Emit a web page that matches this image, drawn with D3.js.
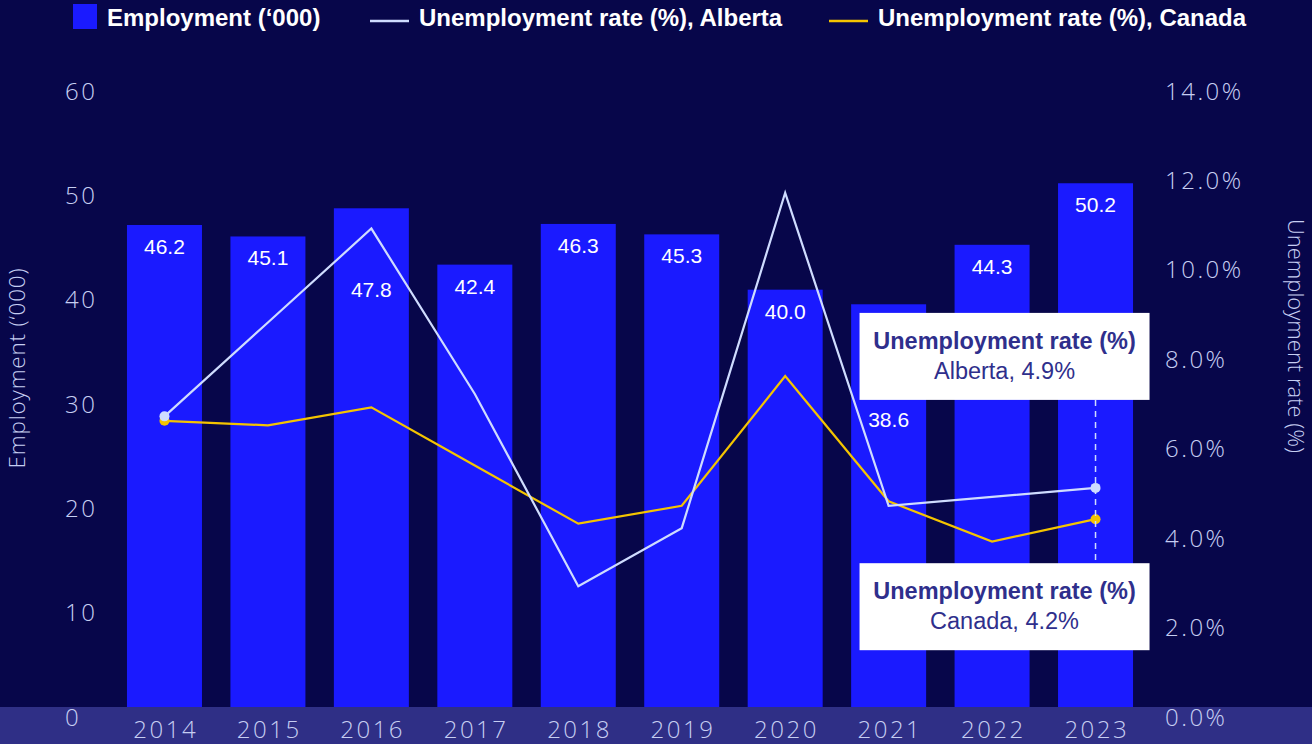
<!DOCTYPE html>
<html>
<head>
<meta charset="utf-8">
<script src="https://cdn.jsdelivr.net/npm/d3@7"></script>
<style>
  html, body { margin: 0; padding: 0; background: #07064a; }
  svg { display: block; }
</style>
</head>
<body>
<svg id="chart" width="1312" height="744"></svg>
<script>
// ---- data ----
const years = ["2014", "2015", "2016", "2017", "2018", "2019", "2020", "2021", "2022", "2023"];
const employment = [46.2, 45.1, 47.8, 42.4, 46.3, 45.3, 40.0, 38.6, 44.3, 50.2];
const rateAlberta = [6.5, 8.6, 10.7, 7.0, 2.7, 4.0, 11.5, 4.5, 4.7, 4.9];
const rateCanada = [6.4, 6.3, 6.7, 5.4, 4.1, 4.5, 7.4, 4.6, 3.7, 4.2];
const employmentTicks = [0, 10, 20, 30, 40, 50, 60];
const rateTicks = [0, 2, 4, 6, 8, 10, 12, 14];

// ---- look ----
const W = 1312, H = 744;
const colors = {
  bg: "#07064a",
  band: "#2f2f86",
  bar: "#1a1aff",
  alberta: "#cfdcff",
  canada: "#f4c400",
  tick: "#c6cef2",
  calloutText: "#2f2f8c"
};
const lightFont = "'Open Sans', 'Noto Sans', sans-serif";
const boldFont = "'Liberation Sans', Arial, sans-serif";
// bars whose value label sits lower to stay clear of the lines
const labelDrop = { "2016": 89, "2021": 123 };

const svg = d3.select("#chart");
svg.append("rect").attr("width", W).attr("height", H).attr("fill", colors.bg);

const baseY = 707, topY = 81;
svg.append("rect").attr("x", 0).attr("y", baseY).attr("width", W).attr("height", H - baseY)
  .attr("fill", colors.band);

const x = d3.scaleBand().domain(years).range([113, 1147]).paddingInner(0.275).paddingOuter(0.135);
const yEmp = d3.scaleLinear().domain([0, 60]).range([baseY, topY]);
const yRate = d3.scaleLinear().domain([0, 14]).range([baseY, topY]);
const cx = d => x(d) + x.bandwidth() / 2;

// ---- bars ----
const rows = years.map((yr, i) => ({ yr, emp: employment[i], ab: rateAlberta[i], ca: rateCanada[i] }));

svg.append("g").selectAll("rect").data(rows).join("rect")
  .attr("x", d => x(d.yr))
  .attr("y", d => yEmp(d.emp))
  .attr("width", x.bandwidth())
  .attr("height", d => yEmp(0) - yEmp(d.emp))
  .attr("fill", colors.bar);

svg.append("g").selectAll("text").data(rows).join("text")
  .attr("x", d => cx(d.yr))
  .attr("y", d => yEmp(d.emp) + (labelDrop[d.yr] || 29))
  .attr("text-anchor", "middle")
  .attr("font-family", boldFont)
  .attr("font-size", 21)
  .attr("fill", "#ffffff")
  .text(d => d3.format(".1f")(d.emp));

// ---- axes ----
const leftAxis = svg.append("g").attr("transform", "translate(65,0)")
  .call(d3.axisLeft(yEmp).tickValues(employmentTicks).tickSize(0).tickFormat(d3.format("d")));
const rightAxis = svg.append("g").attr("transform", "translate(1165,0)")
  .call(d3.axisRight(yRate).tickValues(rateTicks).tickSize(0).tickFormat(d => d3.format(".1f")(d) + "%"));
const bottomAxis = svg.append("g").attr("transform", `translate(0,${baseY})`)
  .call(d3.axisBottom(x).tickSize(0));

[leftAxis, rightAxis, bottomAxis].forEach(g => {
  g.select(".domain").remove();
  g.selectAll("text")
    .attr("fill", colors.tick)
    .attr("font-family", lightFont)
    .attr("font-weight", 300)
    .attr("font-size", 24)
    .attr("letter-spacing", 2.5);
});
[leftAxis, rightAxis].forEach(g => {
  g.selectAll("text").attr("x", 0).attr("dy", null).attr("y", 18).attr("text-anchor", "start");
});
bottomAxis.selectAll("text").attr("dy", null).attr("y", 31).attr("dx", 1.25);

svg.append("text")
  .attr("transform", "translate(25,368) rotate(-90)")
  .attr("text-anchor", "middle")
  .attr("font-family", lightFont).attr("font-weight", 300).attr("font-size", 22.5)
  .attr("letter-spacing", 0.8)
  .attr("fill", colors.tick)
  .text("Employment (‘000)");

svg.append("text")
  .attr("transform", "translate(1288,336) rotate(90)")
  .attr("text-anchor", "middle")
  .attr("font-family", lightFont).attr("font-weight", 300).attr("font-size", 22)
  .attr("fill", colors.tick)
  .text("Unemployment rate (%)");

// ---- lines ----
const series = [
  { key: "ca", color: colors.canada },
  { key: "ab", color: colors.alberta }
];
series.forEach(s => {
  const line = d3.line().x(d => cx(d.yr)).y(d => yRate(d[s.key]));
  svg.append("path").datum(rows)
    .attr("d", line)
    .attr("fill", "none")
    .attr("stroke", s.color)
    .attr("stroke-width", 2.2)
    .attr("stroke-linejoin", "miter");
  const ends = [rows[0], rows[rows.length - 1]];
  svg.append("g").selectAll("circle").data(ends).join("circle")
    .attr("cx", d => cx(d.yr))
    .attr("cy", d => yRate(d[s.key]))
    .attr("r", 5)
    .attr("fill", s.color);
});

// ---- callouts for the latest year ----
const last = rows[rows.length - 1];
const lx = cx(last.yr);
const boxW = 290, boxH = 87, boxX = lx - 236;
const abBoxTop = yRate(last.ab) - 88 - boxH;
const caBoxTop = yRate(last.ca) + 44;

svg.append("line")
  .attr("x1", lx).attr("x2", lx)
  .attr("y1", abBoxTop + boxH).attr("y2", caBoxTop)
  .attr("stroke", colors.alberta).attr("stroke-width", 1.5)
  .attr("stroke-dasharray", "6,5");

const callouts = [
  { top: abBoxTop, label: `Alberta, ${d3.format(".1f")(last.ab)}%` },
  { top: caBoxTop, label: `Canada, ${d3.format(".1f")(last.ca)}%` }
];
callouts.forEach(c => {
  const g = svg.append("g");
  g.append("rect").attr("x", boxX).attr("y", c.top).attr("width", boxW).attr("height", boxH)
    .attr("fill", "#ffffff");
  g.append("text").attr("x", boxX + boxW / 2).attr("y", c.top + 36)
    .attr("text-anchor", "middle").attr("font-family", boldFont).attr("font-weight", "bold")
    .attr("font-size", 23.5).attr("fill", colors.calloutText)
    .text("Unemployment rate (%)");
  g.append("text").attr("x", boxX + boxW / 2).attr("y", c.top + 66)
    .attr("text-anchor", "middle").attr("font-family", boldFont)
    .attr("font-size", 23.5).attr("fill", colors.calloutText)
    .text(c.label);
});

// ---- legend ----
const legend = svg.append("g").attr("font-family", boldFont).attr("font-weight", "bold")
  .attr("font-size", 24).attr("fill", "#ffffff");
legend.append("rect").attr("x", 73).attr("y", 4).attr("width", 24).attr("height", 25).attr("fill", colors.bar);
legend.append("text").attr("x", 107).attr("y", 26).text("Employment (‘000)");
legend.append("line").attr("x1", 370).attr("x2", 409).attr("y1", 21).attr("y2", 21)
  .attr("stroke", colors.alberta).attr("stroke-width", 2.5);
legend.append("text").attr("x", 419).attr("y", 26).text("Unemployment rate (%), Alberta");
legend.append("line").attr("x1", 829).attr("x2", 868).attr("y1", 21).attr("y2", 21)
  .attr("stroke", colors.canada).attr("stroke-width", 2.5);
legend.append("text").attr("x", 878).attr("y", 26).text("Unemployment rate (%), Canada");
</script>
</body>
</html>
